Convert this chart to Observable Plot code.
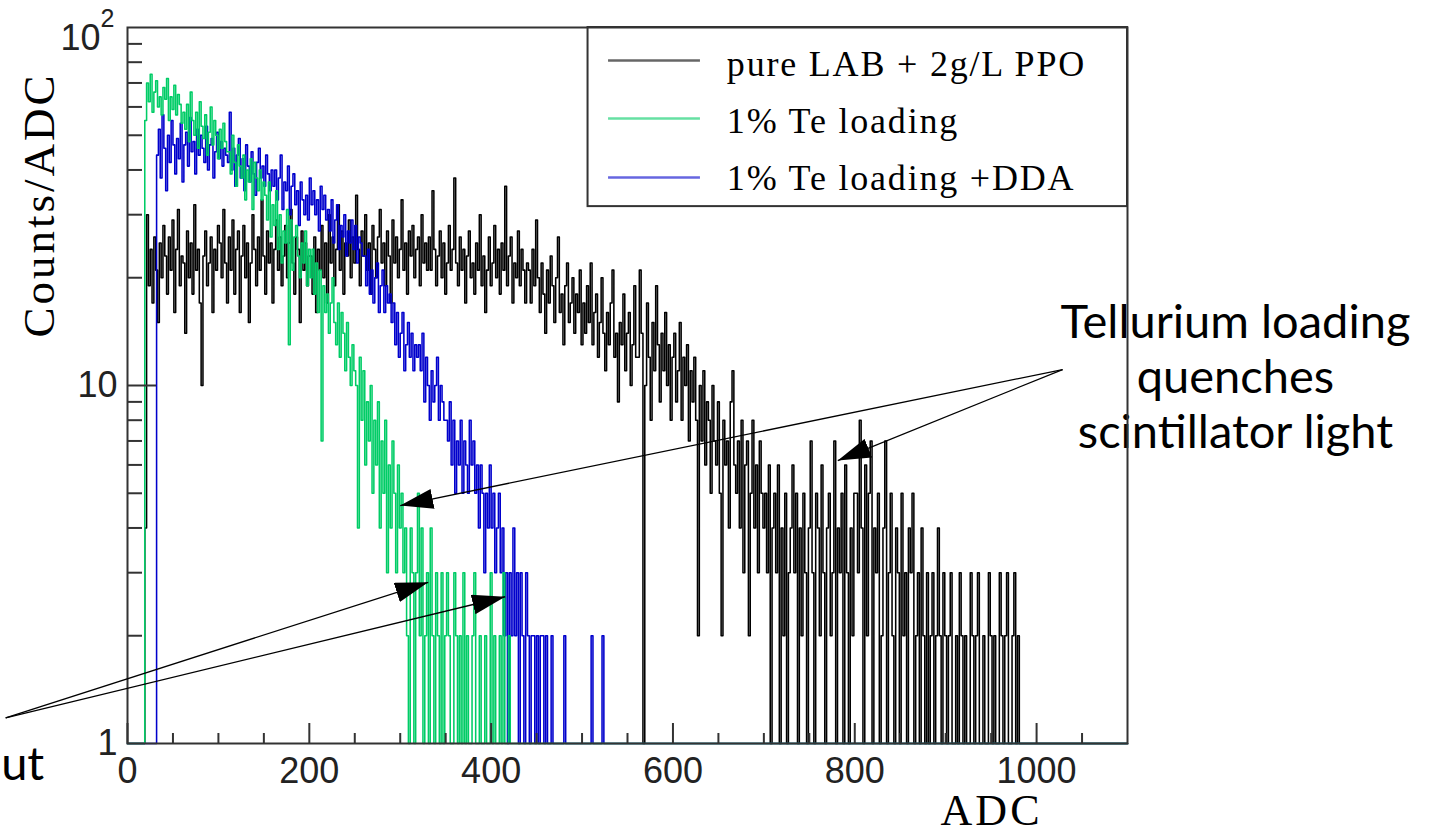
<!DOCTYPE html>
<html><head><meta charset="utf-8">
<script src="https://cdn.jsdelivr.net/npm/d3@7"></script>
<script src="https://cdn.jsdelivr.net/npm/@observablehq/plot@0.6"></script>
<style>
html,body{margin:0;padding:0;background:#fff;}
#chart svg{display:block;}
g[aria-description="legend-text"] text{letter-spacing:1.8px;}
g[aria-description="axis-title"] text{letter-spacing:3px;}
</style>
</head><body><div id="chart"></div>
<script>
// ---- data (counts per ADC, 2-ADC bins) ----
const binWidth = 2;
const blackStart = 19;
const blackCounts = [4,
30,19,24,17,26,21,15,25,20,28,23,18,26,21,29,16,24,31,19,23,22,14,27,20,25,18,32,21,24,17,10,23,27,19,22,26,16,24,21,28,
25,20,31,22,17,26,21,29,18,24,27,16,23,28,20,25,15,22,30,24,19,26,21,33,23,18,27,22,25,17,24,29,21,26,19,23,28,20,25,31,22,18,26,24,15,27,21,25,19,23,
23,18,26,16,24,21,28,20,25,17,30,22,26,19,24,32,21,27,18,25,23,29,20,26,22,34,24,19,27,23,30,21,25,18,28,24,20,26,31,22,25,19,27,23,17,29,22,26,20,24,33,21,25,18,27,23,28,20,24,26,19,30,22,25,21,
26,21,35,24,19,23,27,20,25,18,22,28,21,24,38,22,19,26,21,24,17,23,27,20,22,18,25,21,30,19,23,16,21,26,19,22,28,20,24,18,25,21,36,19,23,26,17,22,20,27,19,24,21,17,22,
21,17,24,19,29,20,16,22,18,14,21,17,23,19,15,20,26,16,18,13,19,22,15,17,20,14,18,16,21,13,
17,14,19,15,22,13,16,18,12,15,20,14,11,16,13,17,21,12,14,9,15,13,18,11,14,16,10,13,19,12,
12,21,14,0,10,17,12,8,15,11,19,13,9,14,11,16,10,13,8,12,14,9,11,15,8,12,10,13,7,11,
9,12,8,2,10,7,11,6,9,8,5,10,7,6,9,5,2,8,6,7,4,9,11,6,5,7,4,8,3,6,7,2,5,8,4,6,3,7,5,4,
5,3,6,0,4,5,3,6,1,4,2,5,0,3,4,6,3,5,0,4,2,5,3,0,4,7,3,1,5,4,2,6,3,0,4,5,2,3,7,0,4,3,5,1,6,3,0,4,2,5,
5,3,8,4,0,6,2,5,7,0,4,3,5,0,2,4,7,1,3,5,2,0,4,3,0,5,2,3,0,4,3,5,0,2,3,0,4,2,0,3,
1,2,3,0,2,4,2,0,3,2,0,2,3,0,1,2,0,3,2,0,2,0,1,3,2,0,2,3,0,1,2,0,0,3,2,0,2,1,0,3,2,0,2,3,0,1,2,3,0,2];
const greenStart = 19;
const greenCounts = [55,70,62,74,58,66,71,60,64,57,68,
63,72,55,64,59,69,57,65,61,54,
58,52,61,48,66,55,50,58,46,62,53,49,57,44,51,60,47,55,50,43,52,46,54,48,45,
45,39,50,42,36,47,41,38,44,33,40,37,43,31,42,38,35,40,33,37,
34,29,37,26,32,28,35,24,30,22,27,25,31,13,29,21,26,28,23,20,25,22,27,19,24,
20,24,18,22,16,21,7,19,16,18,14,17,20,15,13,17,12,16,14,11,15,12,10,13,11,
10,4,12,8,11,6,9,7,10,5,8,6,9,4,7,5,8,3,6,4,7,5,3,6,4,
5,3,4,2,0,4,3,1,3,5,2,4,0,2,3,1,4,2,0,3,2,1,3,0,2,
3,2,0,1,3,2,0,2,1,3,0,2,1,0,2,3,0,1,2,0,1,2,0,1,3,0,2,0,1,2,0,3,0,1,2];
const blueStart = 32;
const blueCounts = [44,52,38,57,46,35,50,42,55,47,39,49,43,54,37,47,
51,41,56,45,48,39,52,44,50,46,42,53,40,47,49,38,45,51,43,48,41,46,44,
42,58,40,46,36,44,49,38,43,35,47,41,37,45,39,34,42,46,38,41,36,44,39,35,40,
36,40,33,38,44,31,37,35,41,30,36,39,32,35,28,37,33,30,34,29,38,32,35,30,33,27,36,31,34,29,
31,27,33,25,29,32,24,28,26,30,23,27,25,29,24,28,22,26,25,23,
23,19,24,18,21,17,20,22,16,19,21,16,19,17,18,
15,17,13,16,12,14,16,11,13,15,12,14,11,13,12,
13,11,14,9,12,10,8,11,9,10,12,8,10,9,8,
8,7,9,6,8,5,7,6,8,5,7,6,5,8,6,
7,5,6,4,6,5,3,5,4,6,4,5,3,4,5,
3,4,2,3,1,3,2,4,2,3,1,3,2,0,3,
2,1,2,2,1,2,1,2,2,1,2,
0,0,2,0,0,0,0,0,0,
2,0,0,0,0,0,0,0,0,0,0,0,0,0,0,2,0,0,0,0,0,2,0,0,0];

const seriesNames = ["pure LAB + 2g/L PPO", "1% Te loading", "1% Te loading +DDA"];
const seriesColors = ["#000000", "#00cc66", "#0000cc"];

const xMajorTicks = [0, 200, 400, 600, 800, 1000];
const xMinorTicks = [50,100,150,250,300,350,450,500,550,650,700,750,850,900,950,1050];
const yLabelTicks = [1, 10];
const yMajorTicks = [10];
const yMinorTicks = [2,3,4,5,6,7,8,9,20,30,40,50,60,70,80,90];

// ---- annotation / legend layout (data units) ----
const legendBox = {x1: 506.6, x2: 1100, y1: 31.6, y2: 100};
const legendLineX = [528.6, 629.7];
const legendLineY = [80.9, 55.7, 38.1];
const legendTextX = 659.3;
const legendTextY = [78.8, 54.6, 37.9];
const quenchText = "Tellurium loading\nquenches\nscintillator light";
const quenchTextPos = {x: 1218.7, y: 6.71};
const quenchFrom = {x: 1028.6, y: 11.08};
const quenchTips = [{x: 300, y: 4.62}, {x: 781.3, y: 6.17}];
const cutText = "ut";
const cutTextPos = {x: -139, y: 0.79};
const cutFrom = {x: -134, y: 1.18};
const cutTips = [{x: 330.8, y: 2.82}, {x: 415.4, y: 2.57}];

// ---- build step series ----
function steps(start, counts) {
  const pts = [{x: 0, y: 1}];
  counts.forEach((c, i) => pts.push({x: start + i * binWidth, y: Math.max(c, 1)}));
  pts.push({x: start + counts.length * binWidth, y: 1});
  pts.push({x: 1100, y: 1});
  return pts;
}
const black = steps(blackStart, blackCounts);
const green = steps(greenStart, greenCounts);
const blue = steps(blueStart, blueCounts);

const legendItems = seriesNames.map((name, i) => ({name, color: seriesColors[i], ly: legendLineY[i], ty: legendTextY[i]}));
const arrows = [
  ...quenchTips.map(t => ({x1: quenchFrom.x, y1: quenchFrom.y, x2: t.x, y2: t.y})),
  ...cutTips.map(t => ({x1: cutFrom.x, y1: cutFrom.y, x2: t.x, y2: t.y}))
];

const frameW = 1000, frameH = 716;
const axisColor = "#333";
const histWidth = 1.55;

const svg = Plot.plot({
  width: 1433, height: 832,
  marginLeft: 127, marginRight: 306, marginTop: 27, marginBottom: 89,
  x: {domain: [0, 1100], label: null},
  y: {type: "log", domain: [1, 100], label: null},
  style: {background: "white", fontFamily: "Liberation Sans", overflow: "visible"},
  marks: [
    Plot.lineY(black, {x: "x", y: "y", curve: "step-after", stroke: seriesColors[0], strokeWidth: histWidth}),
    Plot.lineY(blue, {x: "x", y: "y", curve: "step-after", stroke: seriesColors[2], strokeWidth: histWidth}),
    Plot.lineY(green, {x: "x", y: "y", curve: "step-after", stroke: seriesColors[1], strokeWidth: histWidth}),
    // legend
    Plot.rect([legendBox], {x1: "x1", x2: "x2", y1: "y1", y2: "y2", fill: "white", stroke: axisColor, strokeWidth: 2}),
    Plot.link(legendItems, {x1: legendLineX[0], x2: legendLineX[1], y1: "ly", y2: "ly", stroke: d => d.color, strokeWidth: 2.5, strokeOpacity: 0.6}),
    Plot.text(legendItems, {x: legendTextX, y: "ty", text: "name", textAnchor: "start", lineAnchor: "middle",
      fontFamily: "Liberation Serif", fontSize: 36, fill: "black", ariaDescription: "legend-text"}),
    // annotation text (drawn before frame so the frame crosses it)
    Plot.text([quenchText], {x: quenchTextPos.x, y: quenchTextPos.y, textAnchor: "middle", lineAnchor: "bottom",
      lineHeight: 1.17, fontFamily: "Lato", fontSize: 47, fill: "black"}),
    Plot.text([cutText], {x: cutTextPos.x, y: cutTextPos.y, textAnchor: "start", lineAnchor: "bottom",
      fontFamily: "Lato", fontSize: 47, fill: "black"}),
    // ticks (inward)
    Plot.tickX(xMajorTicks, {x: d => d, insetTop: frameH - 20, stroke: axisColor, strokeWidth: 2}),
    Plot.tickX(xMinorTicks, {x: d => d, insetTop: frameH - 10, stroke: axisColor, strokeWidth: 2}),
    Plot.tickY(yMajorTicks, {y: d => d, insetRight: frameW - 29, stroke: axisColor, strokeWidth: 2}),
    Plot.tickY(yMinorTicks, {y: d => d, insetRight: frameW - 15, stroke: axisColor, strokeWidth: 2}),
    Plot.frame({stroke: axisColor, strokeWidth: 2}),
    Plot.axisX(xMajorTicks, {tickSize: 0, tickPadding: 14, fontSize: 36, tickFormat: d => String(d), label: null, fill: "#222"}),
    Plot.axisY(yLabelTicks, {tickSize: 0, tickPadding: 10, fontSize: 36, tickFormat: d => String(d), label: null, fill: "#222"}),
    Plot.text(["10"], {frameAnchor: "top-left", dx: -27, dy: 11, textAnchor: "end", lineAnchor: "middle", fontSize: 36, fill: "#222"}),
    Plot.text(["2"], {frameAnchor: "top-left", dx: -27, dy: -9, textAnchor: "start", lineAnchor: "middle", fontSize: 25, fill: "#222"}),
    // axis titles
    Plot.text(["Counts/ADC"], {frameAnchor: "top-left", dx: -74, dy: 45, rotate: -90, textAnchor: "end", lineAnchor: "bottom",
      fontFamily: "Liberation Serif", fontSize: 45, fill: "black", ariaDescription: "axis-title"}),
    Plot.text(["ADC"], {frameAnchor: "bottom-right", dx: -85, dy: 81, textAnchor: "end", lineAnchor: "bottom",
      fontFamily: "Liberation Serif", fontSize: 44, fill: "black", ariaDescription: "axis-title"}),
    // arrows
    Plot.link(arrows, {x1: "x1", y1: "y1", x2: "x2", y2: "y2", stroke: "black", strokeWidth: 1.3, ariaDescription: "anno-arrow"})
  ]
});

// filled triangular arrowheads on the annotation links
const defs = d3.select(svg).insert("defs", ":first-child");
defs.append("marker").attr("id", "ahead").attr("viewBox", "0 0 33 20").attr("refX", 33).attr("refY", 10)
  .attr("markerWidth", 33).attr("markerHeight", 20).attr("markerUnits", "userSpaceOnUse").attr("orient", "auto")
  .append("path").attr("d", "M0,0L33,10L0,20Z").attr("fill", "black");
d3.select(svg).selectAll('g[aria-description="anno-arrow"] path').attr("marker-end", "url(#ahead)");

document.getElementById("chart").appendChild(svg);
</script>
</body></html>
